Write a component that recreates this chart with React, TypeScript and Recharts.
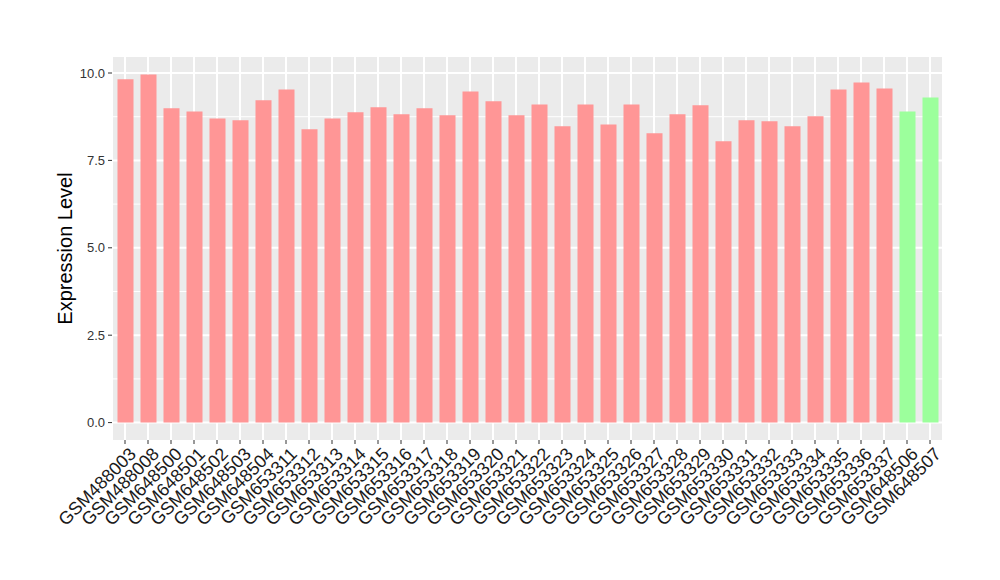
import React from 'react';
import { BarChart, Bar, XAxis, YAxis, CartesianGrid, Cell } from 'recharts';

const samples = [
  'GSM488003', 'GSM488008', 'GSM648500', 'GSM648501', 'GSM648502', 'GSM648503',
  'GSM648504', 'GSM653311', 'GSM653312', 'GSM653313', 'GSM653314', 'GSM653315',
  'GSM653316', 'GSM653317', 'GSM653318', 'GSM653319', 'GSM653320', 'GSM653321',
  'GSM653322', 'GSM653323', 'GSM653324', 'GSM653325', 'GSM653326', 'GSM653327',
  'GSM653328', 'GSM653329', 'GSM653330', 'GSM653331', 'GSM653332', 'GSM653333',
  'GSM653334', 'GSM653335', 'GSM653336', 'GSM653337', 'GSM648506', 'GSM648507',
];

const expression = [
  9.82, 9.96, 8.99, 8.90, 8.70, 8.65, 9.22, 9.53, 8.39, 8.70, 8.88, 9.02,
  8.82, 8.99, 8.79, 9.47, 9.19, 8.79, 9.10, 8.48, 9.10, 8.53, 9.10, 8.28,
  8.82, 9.08, 8.05, 8.65, 8.62, 8.48, 8.76, 9.53, 9.73, 9.56, 8.90, 9.30,
];

// 0 = first group (pink), 1 = second group (green)
const groups = [
  0, 0, 0, 0, 0, 0, 0, 0, 0, 0, 0, 0,
  0, 0, 0, 0, 0, 0, 0, 0, 0, 0, 0, 0,
  0, 0, 0, 0, 0, 0, 0, 0, 0, 0, 1, 1,
];

const groupColors = ['#ff9696', '#9cff9c'];
const yTicks = [0, 2.5, 5, 7.5, 10];
const yMinor = [1.25, 3.75, 6.25, 8.75];

const data = samples.map((s, i) => ({ sample: s, value: expression[i], group: groups[i] }));

const font = '"Liberation Sans", Arial, Helvetica, sans-serif';

function SampleTick(props: any) {
  const { x, y, payload } = props;
  return (
    <text
      transform={`translate(${x + 3},${y}) rotate(-45)`}
      textAnchor="end"
      dy="0.72em"
      fontSize={18}
      fontFamily={font}
      fill="#1a1a1a"
    >
      {payload.value}
    </text>
  );
}

function YLabel(props: any) {
  const vb = props.viewBox;
  const cx = vb.x + 13;
  const cy = vb.y + vb.height / 2;
  return (
    <text
      x={cx}
      y={cy}
      transform={`rotate(-90, ${cx}, ${cy})`}
      textAnchor="middle"
      dominantBaseline="central"
      fontSize={20}
      fontFamily={font}
      fill="#000"
    >
      Expression Level
    </text>
  );
}

export default function App() {
  return (
    <div style={{ margin: -8, width: 1000, height: 580, background: '#fff' }}>
      <BarChart
        width={1000}
        height={580}
        data={data}
        margin={{ top: 57, right: 57, left: 52, bottom: 0 }}
        barCategoryGap={0}
      >
        <CartesianGrid
          fill="#ebebeb"
          stroke="#ffffff"
          strokeWidth={1}
          vertical={false}
          horizontalValues={yMinor}
        />
        <CartesianGrid stroke="#ffffff" strokeWidth={2} horizontalValues={yTicks} />
        <XAxis
          dataKey="sample"
          interval={0}
          height={140}
          padding={{ left: 1.5, right: 1.5 }}
          axisLine={false}
          tickLine={{ stroke: '#333333' }}
          tickSize={4}
          tickMargin={2}
          tick={<SampleTick />}
        />
        <YAxis
          width={60}
          type="number"
          domain={[-0.498, 10.458]}
          allowDataOverflow
          ticks={yTicks}
          tickFormatter={(v: number) => v.toFixed(1)}
          axisLine={false}
          tickLine={{ stroke: '#333333' }}
          tickSize={4}
          tickMargin={3}
          tick={{ fontSize: 13, fill: '#333333', fontFamily: font }}
          label={<YLabel />}
        />
        <Bar dataKey="value" barSize={16} isAnimationActive={false}>
          {data.map((d, i) => (
            <Cell key={i} fill={groupColors[d.group]} />
          ))}
        </Bar>
      </BarChart>
    </div>
  );
}
